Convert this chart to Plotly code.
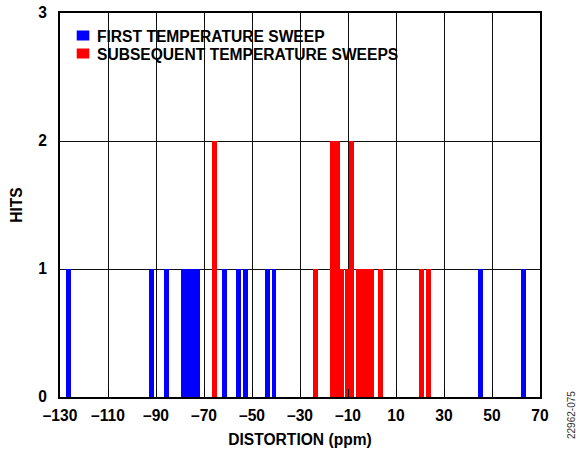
import plotly.graph_objects as go

# ---- data ----
blue_name = "FIRST TEMPERATURE SWEEP"
blue_x = [-126.6, -91.9, -85.6, -78.4, -76.5, -74.6, -72.7, -61.5, -55.6, -52.8, -43.4, -40.8, 45.2, 63.1]
blue_hits = [1, 1, 1, 1, 1, 1, 1, 1, 1, 1, 1, 1, 1, 1]

red_name = "SUBSEQUENT TEMPERATURE SWEEPS"
red_x = [-65.5, -23.5, -16.4, -14.5, -12.8, -10.2, -8.5, -5.6, -3.7, -1.9, 0.0, 3.5, 20.5, 23.6]
red_hits = [2, 1, 2, 2, 1, 1, 2, 1, 1, 1, 1, 1, 1, 1]

x_ticks = [-130, -110, -90, -70, -50, -30, -10, 10, 30, 50, 70]
x_ticktext = ["–130", "–110", "–90", "–70", "–50", "–30", "–10", "10", "30", "50", "70"]
y_ticks = [0, 1, 2, 3]

x_title = "DISTORTION (ppm)"
y_title = "HITS"
figure_id = "22962-075"

FONT = "Liberation Sans, Arial, Helvetica, sans-serif"
BLUE = "#0000ff"
RED = "#ff0000"
FS = 15.6

fig = go.Figure()
fig.add_trace(go.Bar(x=blue_x, y=blue_hits, width=2.0, name=blue_name,
                     marker=dict(color=BLUE, line=dict(width=0)), showlegend=False))
fig.add_trace(go.Bar(x=red_x, y=red_hits, width=2.0, name=red_name,
                     marker=dict(color=RED, line=dict(width=0)), showlegend=False))

W, H = 586, 451
L, R, T, B = 60, 46, 13, 54
pw, ph = W - L - R, H - T - B


def px(xp):
    return (xp - L) / pw


def py(yp):
    return (H - B - yp) / ph


shapes = [
    # white box behind the legend hides the grid lines
    dict(type="rect", xref="paper", yref="paper", x0=0, x1=px(432), y0=py(63), y1=1,
         fillcolor="white", line=dict(width=0), layer="between"),
    dict(type="rect", xref="paper", yref="paper", x0=px(76.7), x1=px(89.3), y0=py(40.5), y1=py(30.5),
         fillcolor=BLUE, line=dict(width=0), layer="above"),
    dict(type="rect", xref="paper", yref="paper", x0=px(76.7), x1=px(89.3), y0=py(58.5), y1=py(48.5),
         fillcolor=RED, line=dict(width=0), layer="above"),
]

annotations = [
    dict(text=blue_name, xref="paper", yref="paper", x=px(95), y=py(36.0), xanchor="left",
         yanchor="middle", showarrow=False, font=dict(family=FONT, size=FS, color="black", weight="bold")),
    dict(text=red_name, xref="paper", yref="paper", x=px(95), y=py(54.0), xanchor="left",
         yanchor="middle", showarrow=False, font=dict(family=FONT, size=FS, color="black", weight="bold")),
    dict(text=figure_id, xref="paper", yref="paper", x=px(571), y=py(415), xanchor="center",
         yanchor="middle", textangle=-90, showarrow=False,
         font=dict(family=FONT, size=10, color="#333", weight="normal")),
]

fig.update_layout(
    width=W, height=H,
    margin=dict(l=L, r=R, t=T, b=B, pad=0, autoexpand=False),
    paper_bgcolor="white", plot_bgcolor="white",
    barmode="overlay", bargap=0,
    font=dict(family=FONT, size=FS, color="black", weight="bold"),
    shapes=shapes, annotations=annotations,
    xaxis=dict(range=[-130, 70], tickmode="array", tickvals=x_ticks, ticktext=x_ticktext,
               automargin=False,
               showgrid=True, gridcolor="#111", gridwidth=1.3,
               showline=True, linecolor="black", linewidth=2, mirror="ticks",
               ticks="inside", ticklen=8, tickcolor="black", tickwidth=1.3,
               ticklabelstandoff=3, zeroline=False,
               title=dict(text=x_title, standoff=11,
                          font=dict(family=FONT, size=FS, weight="bold"))),
    yaxis=dict(range=[0, 3], tickmode="array", tickvals=y_ticks,
               automargin=False,
               showgrid=True, gridcolor="#111", gridwidth=1.3,
               showline=True, linecolor="black", linewidth=2, mirror=True,
               ticks="", ticklabelstandoff=8, zeroline=False,
               title=dict(text=y_title, standoff=12,
                          font=dict(family=FONT, size=FS, weight="bold"))),
)

fig.write_html("out.html", config={"displayModeBar": False},
               post_script="document.body.style.margin='0px';")
